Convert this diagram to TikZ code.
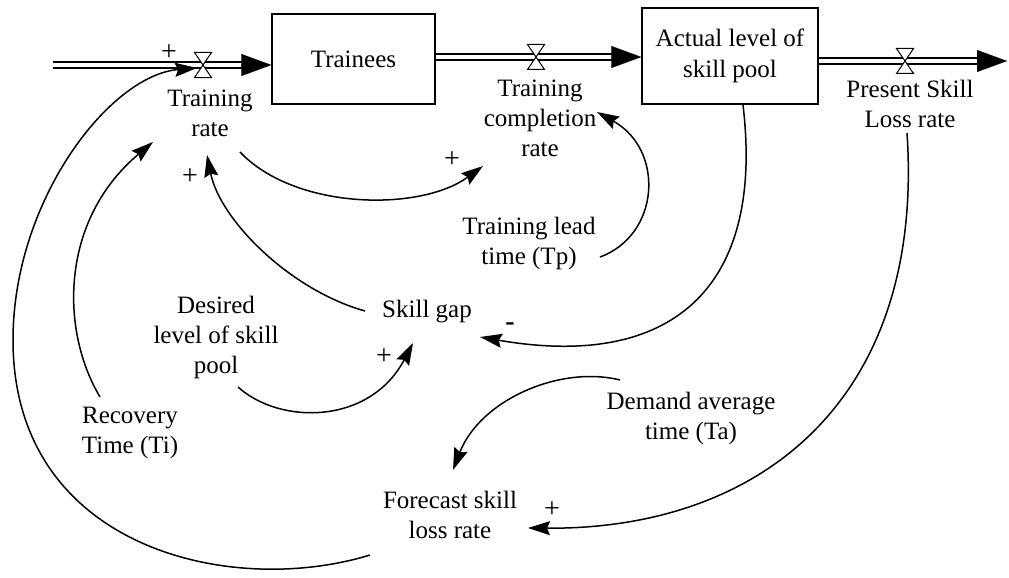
\documentclass[tikz,border=0pt]{standalone}
\usepackage{fontspec}
\setmainfont{Liberation Serif}
\usetikzlibrary{arrows.meta}
\begin{document}
\begin{tikzpicture}[x=1pt,y=-1pt,
  lbl/.style={align=center, font=\fontsize{25}{30}\selectfont, inner sep=0pt},
  sign/.style={font=\fontsize{28}{30}\selectfont, inner sep=0pt},
  stock/.style={draw, line width=1.4pt, align=center, font=\fontsize{25}{31}\selectfont, inner sep=0pt},
  pipe/.style={double distance=4.8pt, line width=1.3pt},
  pipehead/.style={line width=0.1pt, -{Triangle[length=30pt,width=22pt]}},
  link/.style={line width=1.5pt, -{Stealth[length=22pt,width=14pt,inset=3pt]}},
  valve/.pic={\filldraw[fill=white, line width=1pt] (-8.5,-12.5) -- (8.5,-12.5) -- (-8.5,12.5) -- (8.5,12.5) -- cycle;}]
\useasboundingbox (0,0) rectangle (1009,578);

% stocks
\node[stock, minimum width=163pt, minimum height=90pt] (tb) at (353.5,59) {Trainees};
\node[stock, minimum width=176pt, minimum height=96pt] (al) at (730,56) {Actual level of\\skill pool};

% pipe coordinates
\coordinate (src) at (53,65);
\coordinate (sink) at (1007,61);
\coordinate (v1) at (203,65);
\coordinate (v2) at (536,57);
\coordinate (v3) at (905,61);

% pipes
\draw[pipe] (src) -- ([xshift=-28pt]src -| tb.west);
\draw[pipehead] ([xshift=-30pt]src -| tb.west) -- (src -| tb.west);
\draw[pipe] (v2 -| tb.east) -- ([xshift=-28pt]v2 -| al.west);
\draw[pipehead] ([xshift=-30pt]v2 -| al.west) -- (v2 -| al.west);
\draw[pipe] (v3 -| al.east) -- ([xshift=-26pt]sink);
\draw[pipehead] ([xshift=-28pt]sink) -- (sink);
\pic at (v1) {valve};
\pic at (v2) {valve};
\pic at (v3) {valve};

% variable labels
\node[lbl] (trate) at (210,113) {Training\\rate};
\node[lbl] (tcomp) at (540,118) {Training\\completion\\rate};
\node[lbl] (plr) at (910,104) {Present Skill\\Loss rate};
\node[lbl] (tlead) at (529,243) {Training lead\\time (Tp)};
\node[lbl] (gap) at (427,312) {Skill gap};
\node[lbl] (des) at (216,337) {Desired\\level of skill\\pool};
\node[lbl] (rec) at (130,433) {Recovery\\Time (Ti)};
\node[lbl] (dem) at (691,418) {Demand average\\time (Ta)};
\node[lbl] (fsl) at (450,515) {Forecast skill\\loss rate};

% link end points
\coordinate (fsl-o) at (370,555);
\coordinate (tr-i1) at (197,68);
\coordinate (rec-o) at (100,397);
\coordinate (tr-i2) at (153,142);
\coordinate (gap-o) at (365,311);
\coordinate (tr-i3) at (207,155);
\coordinate (tr-o) at (240,152);
\coordinate (tc-i1) at (483,166);
\coordinate (tl-o) at (600,257);
\coordinate (tc-i2) at (597,112);
\coordinate (al-o) at (743,105);
\coordinate (gap-i1) at (480,337);
\coordinate (des-o) at (238,387);
\coordinate (gap-i2) at (413,343);
\coordinate (dem-o) at (620,380);
\coordinate (fsl-i1) at (453,470);
\coordinate (plr-o) at (907,133);
\coordinate (fsl-i2) at (528,528);

% links
\draw[link] (fsl-o) .. controls (230,598) and (13,548) .. (13,340)
                    .. controls (13,200) and (110,75) .. (tr-i1);
\draw[link] (rec-o) .. controls (60,330) and (60,220) .. (tr-i2);
\draw[link] (gap-o) .. controls (290,290) and (220,220) .. (tr-i3);
\draw[link] (tr-o) .. controls (295,210) and (420,212) .. (tc-i1);
\draw[link] (tl-o) .. controls (660,235) and (665,150) .. (tc-i2);
\draw[link] (al-o) .. controls (765,290) and (670,370) .. (gap-i1);
\draw[link] (des-o) .. controls (280,425) and (370,425) .. (gap-i2);
\draw[link] (dem-o) .. controls (560,365) and (480,400) .. (fsl-i1);
\draw[link] (plr-o) .. controls (925,400) and (760,530) .. (fsl-i2);

% polarity signs
\node[sign] (s1) at (169,53) {+};
\node[sign] (s2) at (452,160) {+};
\node[sign] (s3) at (190,177) {+};
\node[sign] (s4) at (384,357) {+};
\node[sign] (s5) at (552,510) {+};
\node[sign] (s6) at (510,327) {\textbf{-}};
\end{tikzpicture}
\end{document}
